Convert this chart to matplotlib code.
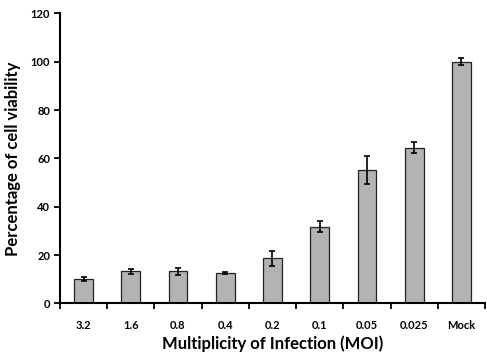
import numpy as np
import matplotlib.pyplot as plt

moi = ['3.2', '1.6', '0.8', '0.4', '0.2', '0.1', '0.05', '0.025', 'Mock']
viability = [10.1, 13.2, 13.2, 12.4, 18.6, 31.8, 55.3, 64.5, 100.1]
err = [0.9, 1.2, 1.6, 0.4, 3.0, 2.1, 5.8, 2.2, 1.6]

plt.rcParams['font.family'] = ['Lato', 'DejaVu Sans']
plt.rcParams['font.weight'] = 'bold'

fig = plt.figure(figsize=(4.87, 3.54), dpi=100)
ax = fig.add_axes([0.123, 0.143, 0.873, 0.819])

x = np.arange(len(moi))
ax.bar(x, viability, width=0.4, color='#b3b3b3', edgecolor='#222222', linewidth=0.9,
       yerr=err, capsize=2.5, error_kw=dict(ecolor='black', elinewidth=1.2, capthick=1.2))

ax.set_xlim(-0.5, len(moi) - 0.5)
ax.set_ylim(0, 120)
ax.set_yticks(range(0, 121, 20))
ax.set_xticks(x)
ax.set_xticklabels(moi)
ax.set_xticks(np.arange(-0.5, len(moi), 1), minor=True)
ax.tick_params(axis='x', which='major', length=0, pad=12, labelsize=8)
ax.tick_params(axis='x', which='minor', length=4, width=1.3, direction='out')
ax.tick_params(axis='y', length=4, width=1.3, direction='out', labelsize=8, pad=3)

for s in ['top', 'right']:
    ax.spines[s].set_visible(False)
for s in ['left', 'bottom']:
    ax.spines[s].set_linewidth(1.5)

ax.set_ylabel('Percentage of cell viability', fontsize=12, fontweight='bold', labelpad=7)
ax.set_xlabel('Multiplicity of Infection (MOI)', fontsize=12, fontweight='bold', labelpad=3)

fig.savefig('out.png', dpi=100)
